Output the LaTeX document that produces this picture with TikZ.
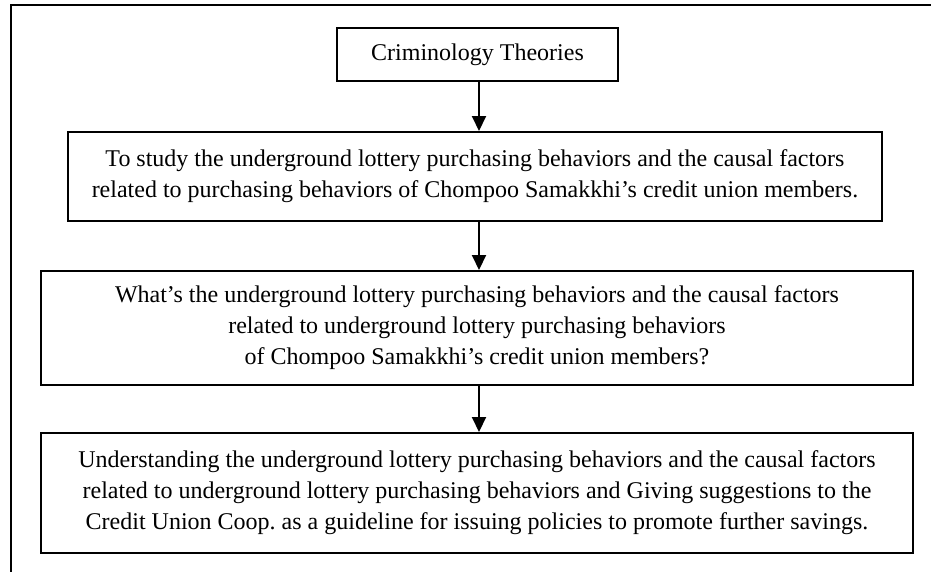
\documentclass[tikz,border=0pt]{standalone}
\usepackage{fontspec}
\setmainfont{Liberation Serif}
\usetikzlibrary{arrows.meta}
\begin{document}
\begin{tikzpicture}[x=1pt,y=-1pt,
  stepbox/.style={draw=black, line width=2pt, rectangle, inner sep=0pt, align=center,
    font=\fontsize{24}{31}\selectfont},
  flow/.style={line width=2pt, -{Triangle[length=15pt,width=14pt]}},
  frame/.style={line width=2.5pt}]
\useasboundingbox (0,0) rectangle (931,571);
\fill[white] (0,0) rectangle (931,571);
\coordinate (ftop) at (935,5);
\coordinate (fcorner) at (11,5);
\coordinate (fbot) at (11,575);
\draw[frame] (fbot) -- (fcorner) -- (ftop);
\node[stepbox, minimum width=281pt, minimum height=53pt] (b1) at (477.5,54.5) {Criminology Theories};
\node[stepbox, minimum width=814pt, minimum height=89pt] (b2) at (475,176.5)
  {To study the underground lottery purchasing behaviors and the causal factors\\
   related to purchasing behaviors of Chompoo Samakkhi’s credit union members.};
\node[stepbox, minimum width=872pt, minimum height=114pt] (b3) at (477,328)
  {What’s the underground lottery purchasing behaviors and the causal factors\\
   related to underground lottery purchasing behaviors\\
   of Chompoo Samakkhi’s credit union members?};
\node[stepbox, minimum width=872pt, minimum height=120pt] (b4) at (477,493)
  {Understanding the underground lottery purchasing behaviors and the causal factors\\
   related to underground lottery purchasing behaviors and Giving suggestions to the\\
   Credit Union Coop.\ as a guideline for issuing policies to promote further savings.};
\coordinate (ax) at (479,0);
\draw[flow] (b1.south -| ax) -- (b2.north -| ax);
\draw[flow] (b2.south -| ax) -- (b3.north -| ax);
\draw[flow] (b3.south -| ax) -- (b4.north -| ax);
\end{tikzpicture}
\end{document}
